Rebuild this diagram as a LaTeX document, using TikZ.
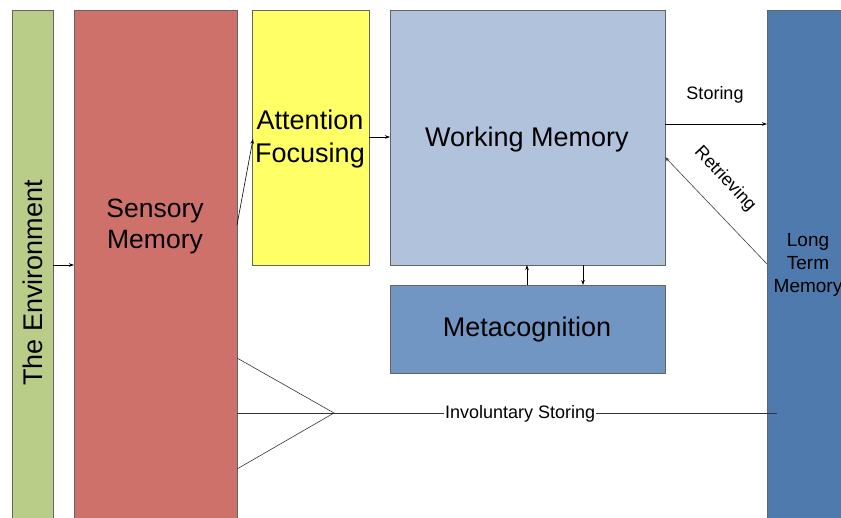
\documentclass[tikz,border=0pt]{standalone}
\usepackage{fontspec}
\setmainfont{Liberation Sans}
\usetikzlibrary{arrows.meta}
\definecolor{envgreen}{RGB}{185,205,137}
\definecolor{sensred}{RGB}{205,113,106}
\definecolor{attyellow}{RGB}{255,255,102}
\definecolor{wmblue}{RGB}{177,195,220}
\definecolor{metablue}{RGB}{114,150,196}
\definecolor{ltmblue}{RGB}{79,122,174}
\definecolor{edgegray}{RGB}{100,100,100}
\begin{document}
\begin{tikzpicture}[x=1pt,y=-1pt,
  block/.style={draw=edgegray,line width=0.8pt},
  conn/.style={draw=black,line width=0.6pt,-{Stealth[length=5pt,width=3.5pt]}},
  plain/.style={draw=black!80,line width=0.6pt},
  lbl/.style={font=\fontsize{18}{21}\selectfont,text=black}]
\useasboundingbox (0,0) rectangle (841,518);
% boxes
\path[block,fill=envgreen] (12,10) rectangle (53,530);
\path[block,fill=sensred] (74,10) rectangle (237,530);
\path[block,fill=attyellow] (252,10) rectangle (369,265);
\path[block,fill=wmblue] (390,10) rectangle (665,265);
\path[block,fill=metablue] (390,285) rectangle (665,373);
\path[block,fill=ltmblue] (767,10) rectangle (860,530);
% named anchor points
\coordinate (envR) at (53,265);
\coordinate (sensL) at (74,265);
\coordinate (sensA) at (237,225);
\coordinate (attA) at (253,139);
\coordinate (attR) at (369,137);
\coordinate (wmL) at (390,137);
\coordinate (wmSt) at (665,124);
\coordinate (ltmSt) at (767,124);
\coordinate (ltmRe) at (767,264);
\coordinate (wmRe) at (665,157);
\coordinate (wmUp) at (527,265);
\coordinate (metaUp) at (527,285);
\coordinate (wmDn) at (583,265);
\coordinate (metaDn) at (583,285);
\coordinate (sensT) at (237,358);
\coordinate (sensM) at (237,413);
\coordinate (sensB) at (237,469);
\coordinate (apex) at (334,413);
\coordinate (ltmIn) at (777,413);
% texts
\node[rotate=90,font=\fontsize{27}{31}\selectfont] (envtxt) at (33,283) {The Environment};
\node[align=center,font=\fontsize{26.5}{31}\selectfont] (senstxt) at (155,227) {Sensory\\Memory};
\node[align=center,font=\fontsize{27}{33}\selectfont] (atttxt) at (310,139) {Attention\\Focusing};
\node[font=\fontsize{27}{31}\selectfont] (wmtxt) at (527,140) {Working Memory};
\node[font=\fontsize{27}{31}\selectfont] (metatxt) at (527,330) {Metacognition};
\node[align=center,font=\fontsize{19}{23}\selectfont] (ltmtxt) at (808,265) {Long\\Term\\Memory};
\node[lbl] (sttxt) at (715,95) {Storing};
\node[lbl,rotate=-47] (retxt) at (725,179) {Retrieving};
% connectors
\draw[conn] (envR) -- (sensL);
\draw[conn] (sensA) -- (attA);
\draw[conn] (attR) -- (wmL);
\draw[conn] (wmSt) -- (ltmSt);
\draw[conn,draw=black!75] (ltmRe) -- (wmRe);
\draw[conn] (metaUp) -- (wmUp);
\draw[conn] (wmDn) -- (metaDn);
\draw[plain] (sensT) -- (apex) -- (sensB);
\draw[plain] (sensM) -- (apex);
\draw[plain] (apex) -- (ltmIn) node[pos=0.42,fill=white,inner sep=1pt,lbl,yshift=-1pt] (invtxt) {Involuntary Storing};
\end{tikzpicture}
\end{document}
